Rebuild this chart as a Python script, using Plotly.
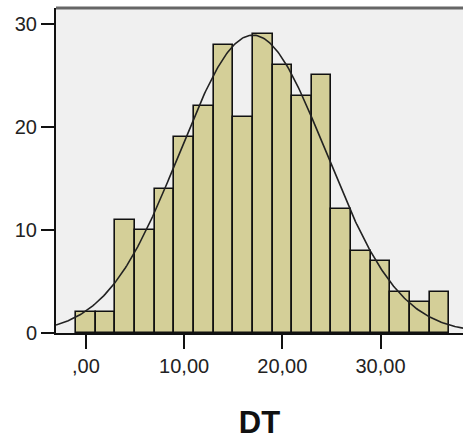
import numpy as np
import plotly.graph_objects as go

# Data
bin_centers = [0, 2, 4, 6, 8, 10, 12, 14, 16, 18, 20, 22, 24, 26, 28, 30, 32, 34, 36]
counts = [2, 2, 11, 10, 14, 19, 22, 28, 21, 29, 26, 23, 25, 12, 8, 7, 4, 3, 4]
bin_width = 2.0
fit_mean = 17.0
fit_sd = 7.45
x_tick_vals = [0, 10, 20, 30]
x_tick_text = [",00", "10,00", "20,00", "30,00"]
y_tick_vals = [0, 10, 20, 30]
y_tick_text = ["0", "10", "20", "30"]
x_title = "DT"

x_range = [-3.05, 38.4]
y_range = [0, 31.55]

n_total = sum(counts)
xs = np.linspace(x_range[0], x_range[1], 300)
ys = n_total * bin_width * np.exp(-0.5 * ((xs - fit_mean) / fit_sd) ** 2) / (fit_sd * np.sqrt(2 * np.pi))

fig = go.Figure()
fig.add_trace(go.Bar(
    x=bin_centers, y=counts, width=bin_width,
    marker=dict(color="#d4cf98", line=dict(color="#111111", width=1.6)),
    showlegend=False, hoverinfo="skip",
))
fig.add_trace(go.Scatter(
    x=xs, y=ys, mode="lines",
    line=dict(color="#222222", width=1.6),
    showlegend=False, hoverinfo="skip",
))

font_family = "Liberation Sans, Arial, sans-serif"
fig.update_layout(
    width=463, height=447,
    margin=dict(l=56, r=0, t=8, b=114),
    paper_bgcolor="white",
    plot_bgcolor="#f0f0f0",
    bargap=0,
    font=dict(family=font_family, color="#222222", size=20),
    xaxis=dict(
        range=x_range, tickvals=x_tick_vals, ticktext=x_tick_text,
        ticks="outside", ticklen=14, tickwidth=2, tickcolor="#111111",
        showline=True, linecolor="#111111", linewidth=2,
        showgrid=False, zeroline=False,
        tickfont=dict(size=20, family=font_family, color="#222222"),
        title=dict(text="<b>" + x_title + "</b>", font=dict(size=31, family=font_family, color="#111111"), standoff=35),
        automargin=False,
    ),
    yaxis=dict(
        range=y_range, tickvals=y_tick_vals, ticktext=y_tick_text,
        ticks="outside", ticklen=13, tickwidth=2, tickcolor="#111111",
        showline=True, linecolor="#111111", linewidth=2,
        showgrid=False, zeroline=False,
        tickfont=dict(size=20, family=font_family, color="#222222"),
        automargin=False,
    ),
    shapes=[dict(type="line", xref="paper", yref="paper", x0=0, x1=1, y0=1, y1=1,
                 line=dict(color="#666666", width=3))],
)

fig.write_html("out.html", config={"displayModeBar": False},
               post_script="document.body.style.margin='0';document.body.style.overflow='hidden';")
